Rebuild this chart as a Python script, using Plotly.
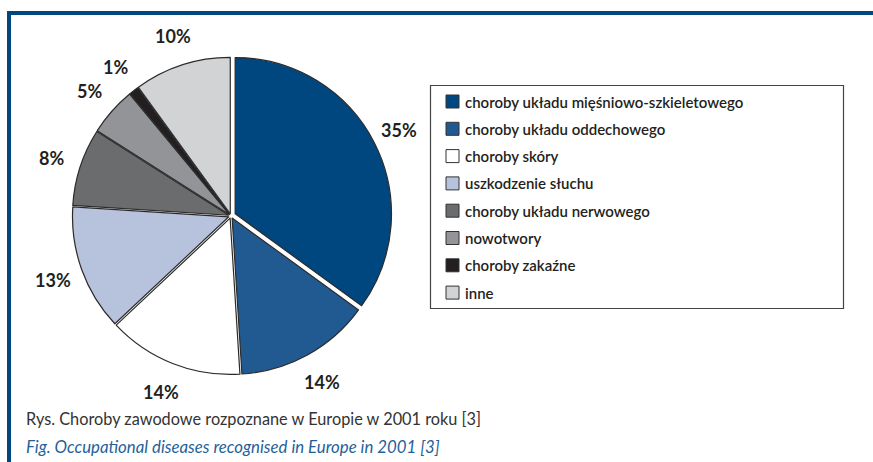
import math
import plotly.graph_objects as go

categories = [
    "choroby układu mięśniowo-szkieletowego",
    "choroby układu oddechowego",
    "choroby skóry",
    "uszkodzenie słuchu",
    "choroby układu nerwowego",
    "nowotwory",
    "choroby zakaźne",
    "inne",
]
values = [35, 14, 14, 13, 8, 5, 1, 10]
colors = ["#00467f", "#215a91", "#ffffff", "#b7c3dd", "#6b6c6e", "#929497", "#231f20", "#d2d3d5"]
pulls = [0.03, 0.015, 0.015, 0.015, 0.015, 0.015, 0.015, 0.015]

W, H = 873, 462
FONT = "Lato"

# pie domain (paper fractions)
dom_x = [0.0802, 0.4490]
dom_y = [0.184, 0.881]

fig = go.Figure()
fig.add_trace(go.Pie(
    labels=categories,
    values=values,
    sort=False,
    direction="clockwise",
    rotation=0,
    pull=pulls,
    marker=dict(colors=colors, line=dict(color="#2b2b2b", width=1.2)),
    textinfo="none",
    showlegend=False,
    hoverinfo="label+value",
    domain=dict(x=dom_x, y=dom_y),
))

shapes = []
annotations = []

# Percentage labels placed outside the slices at their mid-angles
cx_px = (dom_x[0] + dom_x[1]) / 2 * W
cy_px = (1 - (dom_y[0] + dom_y[1]) / 2) * H
label_r = 189
total = sum(values)
cum = 0
for v in values:
    mid = (cum + v / 2) / total * 2 * math.pi
    cum += v
    lx = cx_px + label_r * math.sin(mid)
    ly = cy_px - label_r * math.cos(mid)
    annotations.append(dict(x=lx / W, y=1 - ly / H, xref="paper", yref="paper",
                            text=f"{v}%", showarrow=False, xanchor="center", yanchor="middle",
                            font=dict(family=FONT, size=18, color="#231f20", weight="bold")))

# Frame (top and left blue rule)
frame_col = "#00467f"
shapes.append(dict(type="line", xref="paper", yref="paper", x0=7 / W, x1=1.0,
                   y0=1 - 13 / H, y1=1 - 13 / H, line=dict(color=frame_col, width=4)))
shapes.append(dict(type="line", xref="paper", yref="paper", x0=9 / W, x1=9 / W,
                   y0=0, y1=1 - 11 / H, line=dict(color=frame_col, width=4)))

# Legend box
lx0, lx1, ly0, ly1 = 430.5, 843.5, 85.5, 308.5
shapes.append(dict(type="rect", xref="paper", yref="paper",
                   x0=lx0 / W, x1=lx1 / W, y0=1 - ly1 / H, y1=1 - ly0 / H,
                   line=dict(color="#444444", width=1.2), fillcolor="rgba(0,0,0,0)"))
row0, step = 101.5, 27.3
for i, (cat, col) in enumerate(zip(categories, colors)):
    yc = row0 + i * step
    shapes.append(dict(type="rect", xref="paper", yref="paper",
                       x0=446 / W, x1=459 / W, y0=1 - (yc + 6.5) / H, y1=1 - (yc - 6.5) / H,
                       line=dict(color="#333333", width=1), fillcolor=col))
    annotations.append(dict(x=463 / W, y=1 - yc / H, xref="paper", yref="paper",
                            text=cat, showarrow=False, xanchor="left", yanchor="middle",
                            font=dict(family=FONT, size=15, color="#231f20", weight=600)))

# Captions
annotations.append(dict(x=24 / W, y=1 - 418 / H, xref="paper", yref="paper",
                        text="Rys. Choroby zawodowe rozpoznane w Europie w 2001 roku [3]",
                        showarrow=False, xanchor="left", yanchor="middle",
                        font=dict(family=FONT, size=16.3, color="#333333")))
annotations.append(dict(x=24 / W, y=1 - 446 / H, xref="paper", yref="paper",
                        text="<i>Fig. Occupational diseases recognised in Europe in 2001 [3]</i>",
                        showarrow=False, xanchor="left", yanchor="middle",
                        font=dict(family=FONT, size=16.8, color="#1f5f9a")))

fig.update_layout(
    width=W, height=H,
    margin=dict(l=0, r=0, t=0, b=0),
    paper_bgcolor="white",
    plot_bgcolor="white",
    shapes=shapes,
    annotations=annotations,
)

fig.write_html("out.html", config={"displayModeBar": False},
               post_script="document.body.style.margin='0';document.body.style.overflow='hidden';")
